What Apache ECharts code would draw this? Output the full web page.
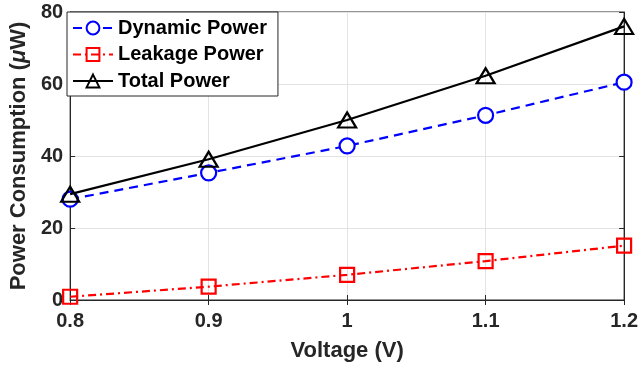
<!DOCTYPE html>
<html><head><meta charset="utf-8">
<script src="https://cdn.jsdelivr.net/npm/echarts@6/dist/echarts.min.js"></script>
<style>html,body{margin:0;padding:0;background:#fff}#c{width:641px;height:368px}</style>
</head><body><div id="c"></div>
<script>
const voltage = [0.8, 0.9, 1.0, 1.1, 1.2];
const dynamicPower = [28.0, 35.3, 42.8, 51.3, 60.5];
const leakagePower = [0.9, 3.7, 7.0, 10.8, 15.1];
const totalPower = [29.4, 39.1, 50.0, 62.3, 76.0];
const xTickLabels = ['0.8', '0.9', '1', '1.1', '1.2'];
const yTicks = [0, 20, 40, 60, 80];

const font = 'Liberation Sans, Arial, sans-serif';
const tc = '#262626';
const pair = a => voltage.map((v, i) => [v, a[i]]);
const chart = echarts.init(document.getElementById('c'), null, {renderer: 'canvas'});
chart.setOption({
  animation: false,
  backgroundColor: '#fff',
  grid: {left: 68, right: 14, top: 12, bottom: 68, show: true, borderColor: tc, borderWidth: 1, backgroundColor: 'transparent'},
  legend: {
    left: 67, top: 12, orient: 'vertical',
    backgroundColor: '#fff', borderColor: tc, borderWidth: 1,
    padding: [6, 11, 5, 5], itemGap: 6.5, itemWidth: 40, itemHeight: 16,
    textStyle: {fontFamily: font, fontWeight: 'bold', fontSize: 20, color: '#000'},
    data: ['Dynamic Power', 'Leakage Power', 'Total Power']
  },
  xAxis: [{
    type: 'value', min: 0.8, max: 1.2, interval: 0.1,
    name: 'Voltage (V)', nameLocation: 'middle', nameGap: 40,
    nameTextStyle: {fontFamily: font, fontWeight: 'bold', fontSize: 22, color: tc},
    axisLine: {lineStyle: {color: tc}},
    axisTick: {inside: true, length: 5, lineStyle: {color: tc}},
    axisLabel: {fontFamily: font, fontWeight: 'bold', fontSize: 20, color: tc, margin: 11,
      formatter: v => xTickLabels[Math.round((v - 0.8) * 10)]},
    splitLine: {show: true, lineStyle: {color: '#e3e3e3'}}
  }, {
    type: 'value', min: 0.8, max: 1.2, interval: 0.1, position: 'top',
    axisLine: {lineStyle: {color: tc}}, axisTick: {inside: true, length: 5, lineStyle: {color: tc}},
    axisLabel: {show: false}, splitLine: {show: false}
  }],
  yAxis: [{
    type: 'value', min: 0, max: 80, interval: 20,
    name: '{b|Power Consumption (}{i|μ}{b|W)}', nameLocation: 'middle', nameGap: 33, nameRotate: 90,
    nameTextStyle: {rich: {
      b: {fontFamily: font, fontWeight: 'bold', fontSize: 22, color: tc},
      i: {fontFamily: font, fontWeight: 'bold', fontStyle: 'italic', fontSize: 22, color: tc}
    }},
    axisLine: {show: true, lineStyle: {color: tc}},
    axisTick: {show: true, inside: true, length: 5, lineStyle: {color: tc}},
    axisLabel: {fontFamily: font, fontWeight: 'bold', fontSize: 20, color: tc, margin: 7,
      formatter: v => String(yTicks[Math.round(v / 20)])},
    splitLine: {show: true, lineStyle: {color: '#e3e3e3'}}
  }, {
    type: 'value', min: 0, max: 80, interval: 20, position: 'right',
    axisLine: {show: true, lineStyle: {color: tc}},
    axisTick: {show: true, inside: true, length: 5, lineStyle: {color: tc}},
    axisLabel: {show: false}, splitLine: {show: false}
  }],
  series: [{
    name: 'Dynamic Power', type: 'line', data: pair(dynamicPower),
    symbol: 'circle', symbolSize: 15, z: 3,
    lineStyle: {color: '#0000ff', width: 2.2, type: [9, 6]},
    itemStyle: {color: '#fff', borderColor: '#0000ff', borderWidth: 2.2}
  }, {
    name: 'Leakage Power', type: 'line', data: pair(leakagePower),
    symbol: 'rect', symbolSize: 14, z: 3,
    lineStyle: {color: '#ff0000', width: 2.2, type: [8, 4, 2, 4]},
    itemStyle: {color: 'transparent', borderColor: '#ff0000', borderWidth: 2.2}
  }, {
    name: 'Total Power', type: 'line', data: pair(totalPower),
    symbol: 'triangle', symbolSize: [18, 15], z: 4,
    lineStyle: {color: '#000', width: 2.2},
    itemStyle: {color: 'transparent', borderColor: '#000', borderWidth: 2.2}
  }]
});
</script>
</body></html>
